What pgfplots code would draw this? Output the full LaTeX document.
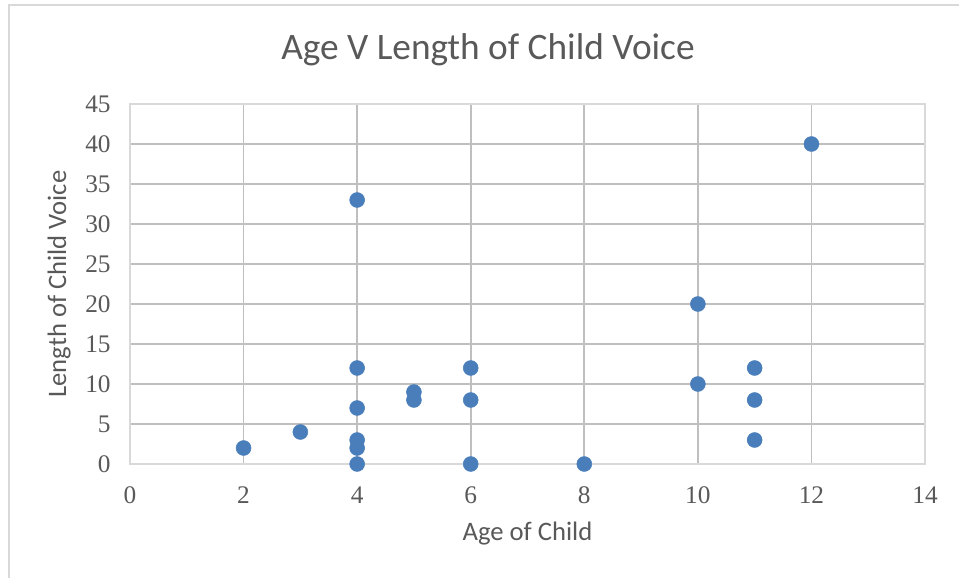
\documentclass[border=0pt]{standalone}
\usepackage{pgfplots}
\pgfplotsset{compat=1.18}
\usepackage{fontspec}
\setmainfont{Carlito}
\newfontfamily\tickfont{Liberation Serif}
\definecolor{txt}{HTML}{595959}
\definecolor{grid}{HTML}{D9D9D9}
\definecolor{pt}{HTML}{4A7EBB}
\begin{document}
\begin{tikzpicture}[x=0.75pt,y=0.75pt]
\path[use as bounding box] (0,0) rectangle (959,578);
\draw[grid,line width=1.5pt] (8.5,0) -- (8.5,572.5) -- (959,572.5);
\node[txt,font=\fontsize{28}{32}\selectfont] at (488,528) {Age V Length of Child Voice};
\begin{axis}[
  at={(97.5pt,85.5pt)}, anchor=south west,
  scale only axis, width=596.25pt, height=270pt,
  xmin=0, xmax=14, ymin=0, ymax=45,
  xtick={0,2,...,14}, ytick={0,5,...,45},
  grid=major,
  major grid style={grid,line width=1.3pt},
  axis line style={grid,line width=1.3pt},
  tick style={draw=none},
  /pgf/number format/assume math mode=true,
  ticklabel style={font=\tickfont\fontsize{19}{22}\selectfont, text=txt},
  xticklabel style={yshift=-13.5pt},
  yticklabel style={xshift=-11pt},
  xlabel={Age of Child}, ylabel={Length of Child Voice},
  label style={font=\fontsize{20}{24}\selectfont, text=txt},
  xlabel style={yshift=-7pt},
  ylabel style={yshift=4pt},
  clip=false,
]
\addplot[only marks, mark=*, mark size=5.6pt, mark options={fill=pt, draw=pt}] coordinates {
(2,2) (3,4) (4,33) (4,12) (4,7) (4,3) (4,2) (4,0) (5,9) (5,8)
(6,12) (6,8) (6,0) (8,0) (10,20) (10,10) (11,12) (11,8) (11,3) (12,40)
};
\end{axis}
\end{tikzpicture}
\end{document}
